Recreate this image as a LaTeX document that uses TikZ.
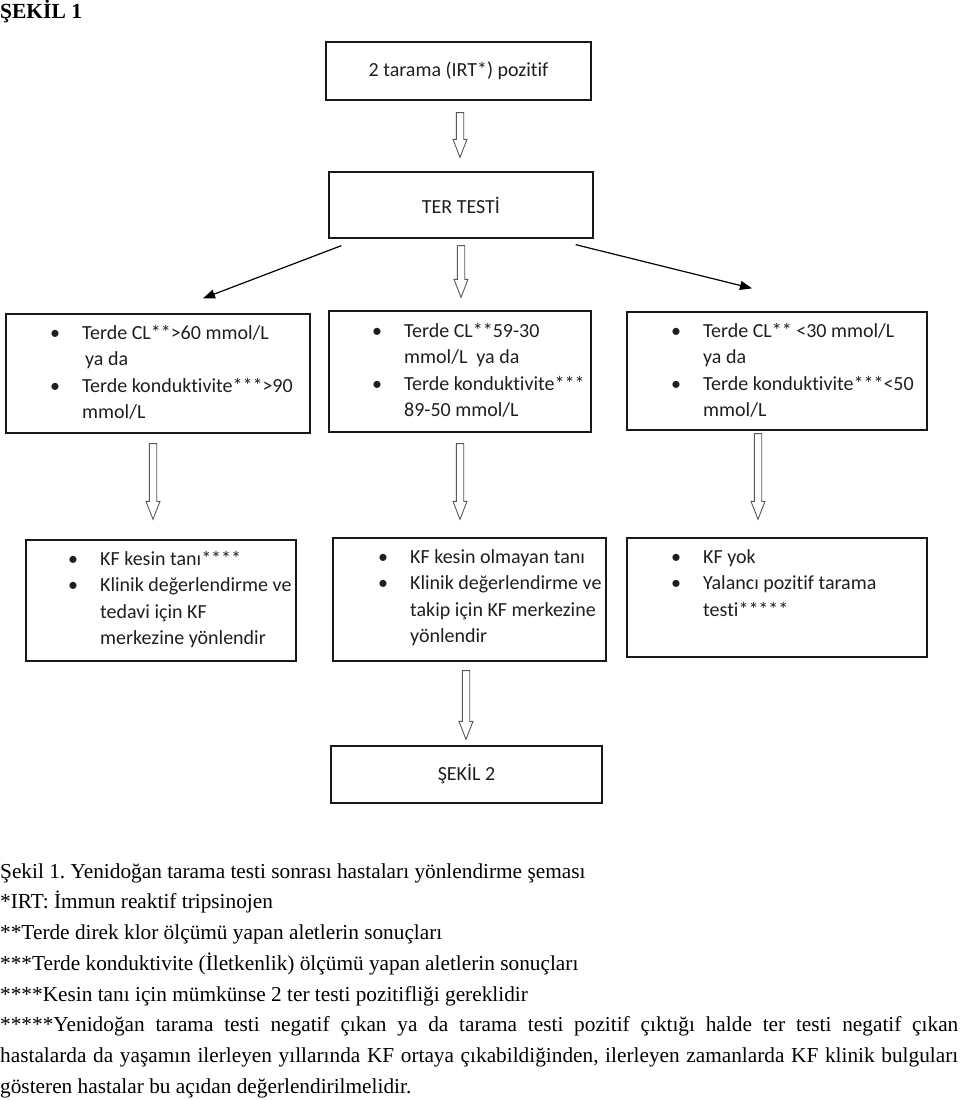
\documentclass[tikz,border=0pt]{standalone}
\usepackage{fontspec}
\setmainfont{Liberation Serif}
\newfontfamily\boxfont[RawFeature={-liga;-clig;-dlig;-calt}]{Carlito}
\usetikzlibrary{arrows.meta}
\usetikzlibrary{calc}
\definecolor{frame}{gray}{0.1}
\definecolor{arrowgrey}{gray}{0.35}
\definecolor{ink}{gray}{0.12}
\tikzstyle{box}=[draw=frame, line width=1.3pt, inner sep=0pt, font=\boxfont\fontsize{20}{26.5}\selectfont, text=ink]
\tikzstyle{txt}=[anchor=north west, inner sep=0pt, align=left, font=\boxfont\fontsize{20}{26.5}\selectfont, text=ink]
\tikzstyle{blockarrow}=[draw=arrowgrey, line width=0.9pt, fill=white]
\tikzstyle{thinarrow}=[draw=black, line width=1.2pt, -{Triangle[length=12pt,width=9pt]}]
\tikzstyle{note}=[anchor=north west, inner sep=0pt, text width=958pt, align=justify, font=\fontsize{21.3}{30.7}\selectfont]
\newcommand{\itm}{\rule{0pt}{15pt}\makebox[0pt][r]{\makebox[32pt][l]{\textbullet}}}
\newcommand{\hollowdown}[2]{%
  \draw[blockarrow] let \p1=(#1), \p2=(#2) in
    (\x1-3.7pt,\y1) -- (\x1+3.7pt,\y1) -- (\x1+3.7pt,\y2+18pt) -- (\x1+7pt,\y2+18pt)
    -- (\x1,\y2) -- (\x1-7pt,\y2+18pt) -- (\x1-3.7pt,\y2+18pt) -- cycle;}

\begin{document}
\begin{tikzpicture}[x=1pt, y=-1pt]
    \useasboundingbox (0,0) rectangle (960,1100);
    \node[anchor=base west, inner sep=0pt, font=\bfseries\fontsize{21.5}{26}\selectfont] (title) at (0,18) {ŞEKİL 1};

    \node[box, minimum width=265pt, minimum height=58pt] (top) at (458.5,71) {2 tarama (IRT*) pozitif};
    \node[box, minimum width=264pt, minimum height=66pt] (ter) at (461,205) {TER TESTİ};
    \node[box, minimum width=304pt, minimum height=119pt] (l3) at (158,373.5) {};
    \node[box, minimum width=262pt, minimum height=121pt] (m3) at (460,371.5) {};
    \node[box, minimum width=300pt, minimum height=118pt] (r3) at (777,371) {};
    \node[box, minimum width=270pt, minimum height=121pt] (l4) at (161,600.5) {};
    \node[box, minimum width=273pt, minimum height=123pt] (m4) at (469.5,599.5) {};
    \node[box, minimum width=300pt, minimum height=119pt] (r4) at (777,597.5) {};
    \node[box, minimum width=271pt, minimum height=57pt] (fig2) at (466.5,774.5) {ŞEKİL 2};

    \node[txt] (l3t) at (82,324) {\itm Terde CL**>60 mmol/L\\\hspace*{3pt}ya da\\\itm Terde konduktivite***>90\\mmol/L};
    \node[txt] (m3t) at (404,322) {\itm Terde CL**59-30\\mmol/L\ \ ya da\\\itm Terde konduktivite***\\89-50 mmol/L};
    \node[txt] (r3t) at (703,322) {\itm Terde CL** <30 mmol/L\\ya da\\\itm Terde konduktivite***<50\\mmol/L};
    \node[txt] (l4t) at (100,550) {\itm KF kesin tanı****\\\itm Klinik değerlendirme ve\\tedavi için KF\\merkezine yönlendir};
    \node[txt] (m4t) at (410,548) {\itm KF kesin olmayan tanı\\\itm Klinik değerlendirme ve\\takip için KF merkezine\\yönlendir};
    \node[txt] (r4t) at (703,548) {\itm KF yok\\\itm Yalancı pozitif tarama\\testi*****};

    \hollowdown{[xshift=1.5pt,yshift=-12pt]top.south}{[yshift=14pt]ter.north}
    \hollowdown{[yshift=-7pt]ter.south}{[yshift=13pt]m3.north}
    \hollowdown{[xshift=-5pt,yshift=-10pt]l3.south}{[yshift=20pt]l4.north}
    \hollowdown{[yshift=-11pt]m3.south}{[yshift=18pt]m4.north}
    \hollowdown{[xshift=-19pt,yshift=-3pt]r3.south}{[yshift=18pt]r4.north}
    \hollowdown{[xshift=-3.5pt,yshift=-9pt]m4.south}{[yshift=6pt]fig2.north}
    \draw[thinarrow] ([xshift=13pt,yshift=-7pt]ter.south west) -- ([xshift=45pt,yshift=15pt]l3.north);
    \draw[thinarrow] ([xshift=-18pt,yshift=-6pt]ter.south east) -- ([xshift=-25pt,yshift=23pt]r3.north);

    \node[note] (cap) at (0,862) {\frenchspacing\hyphenpenalty=10000\rule{0pt}{16pt}Şekil 1. Yenidoğan tarama testi sonrası hastaları yönlendirme şeması\\{}*IRT: İmmun reaktif tripsinojen\\{}**Terde direk klor ölçümü yapan aletlerin sonuçları\\{}***Terde konduktivite (İletkenlik) ölçümü yapan aletlerin sonuçları\\{}****Kesin tanı için mümkünse 2 ter testi pozitifliği gereklidir\\{}*****Yenidoğan tarama testi negatif çıkan ya da tarama testi pozitif çıktığı halde ter testi negatif çıkan\linebreak hastalarda da yaşamın ilerleyen yıllarında KF ortaya çıkabildiğinden, ilerleyen zamanlarda KF klinik bulguları\linebreak gösteren hastalar bu açıdan değerlendirilmelidir.};
\end{tikzpicture}
\end{document}
